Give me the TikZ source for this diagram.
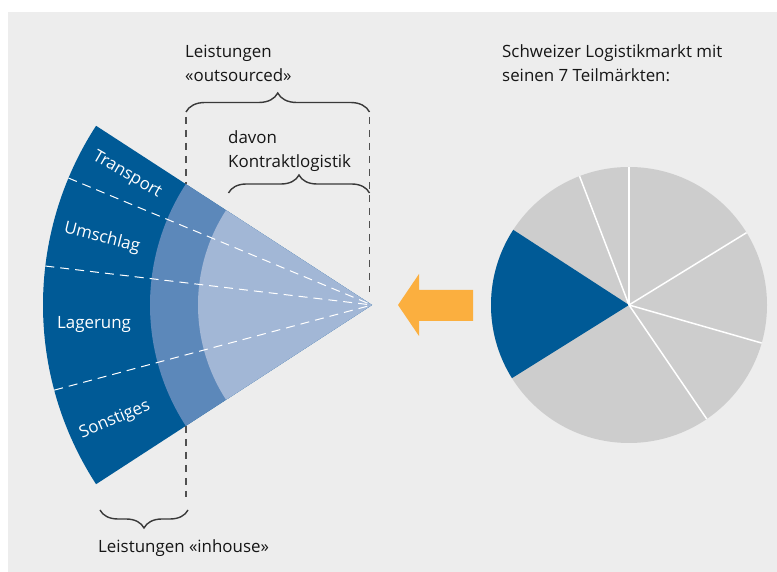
\documentclass[tikz,border=0pt]{standalone}
\usepackage{fontspec}
\setmainfont{Open Sans}
\usetikzlibrary{decorations.pathreplacing}
\definecolor{bgc}{HTML}{EDEDED}
\definecolor{fdark}{HTML}{005A96}
\definecolor{fmid}{HTML}{5C88BA}
\definecolor{flight}{HTML}{A2B7D6}
\definecolor{pgray}{HTML}{CDCDCD}
\definecolor{arrowc}{HTML}{FBAF3F}
\definecolor{txt}{HTML}{161616}
\definecolor{guidec}{HTML}{505050}
\begin{document}
\begin{tikzpicture}[x=1pt,y=1pt,
  lbl/.style={font=\fontsize{16.9}{24}\selectfont, text=txt, inner sep=0pt, align=left},
  seg/.style={font=\fontsize{16.9}{20}\selectfont, text=white, inner sep=0pt},
  guide/.style={draw=guidec, line width=1.6pt, dash pattern=on 7pt off 6pt},
  curly/.style={draw=txt!85, line width=1.4pt, decorate,
     decoration={brace, amplitude=#1}},
  wdash/.style={draw=white, line width=1pt, dash pattern=on 9pt off 6pt},
  wline/.style={draw=white, line width=1.5pt}]
\useasboundingbox (0,0) rectangle (777,572);
\fill[white] (0,0) rectangle (777,572);
\fill[bgc] (8,0) rectangle (777,560);

% fan
\coordinate (A) at (372,267);
\fill[fdark] (A) -- ++(147:329) arc[start angle=147,end angle=213,radius=329] -- cycle;
\fill[fmid] (A) -- ++(147:222) arc[start angle=147,end angle=213,radius=222] -- cycle;
\fill[flight] (A) -- ++(147:174) arc[start angle=147,end angle=213,radius=174] -- cycle;
\foreach \a in {157.3,173.2,195} \draw[wdash] (A) ++(\a:329) -- (A);

\node[seg, rotate=-30] (tr) at (127,397) {Transport};
\node[seg, rotate=-14] (um) at (102,334) {Umschlag};
\node[seg] (la) at (94,247) {Lagerung};
\node[seg, rotate=23] (so) at (115,152) {Sonstiges};

% guides
\coordinate (g1t) at (186,455); \coordinate (g1b) at (186,388);
\coordinate (g2t) at (186,146); \coordinate (g2b) at (186,75);
\coordinate (g3t) at (369.5,455); \coordinate (g3b) at (369.5,280);
\draw[guide] (g1t) -- (g1b);
\draw[guide] (g2t) -- (g2b);
\draw[guide] (g3t) -- (g3b);

% braces
\coordinate (ob1) at (186,460); \coordinate (ob2) at (369.5,460);
\coordinate (kb1) at (228.5,379); \coordinate (kb2) at (369.5,379);
\coordinate (ib1) at (188,62); \coordinate (ib2) at (100,62);
\draw[curly=19pt] (ob1) -- (ob2);
\draw[curly=18pt] (kb1) -- (kb2);
\draw[curly=18pt] (ib1) -- (ib2);

% texts (base anchor = last line)
\node[lbl, anchor=base west] (out) at (185,490) {Leistungen\\«outsourced»};
\node[lbl, anchor=base west] (kl) at (228,404) {davon\\Kontraktlogistik};
\node[lbl, anchor=base west] (inh) at (98,19) {Leistungen «inhouse»};
\node[lbl, anchor=base west] (mk) at (502,490) {Schweizer Logistikmarkt mit\\seinen 7 Teilmärkten:};

% arrow
\fill[arrowc] (398,267) -- (419,298) -- (419,282) -- (473,282) -- (473,251) -- (419,251) -- (419,236) -- cycle;

% pie
\coordinate (P) at (629,267);
\fill[pgray] (P) circle[radius=138];
\fill[fdark] (P) -- ++(147:138) arc[start angle=147,end angle=212,radius=138] -- cycle;
\foreach \a in {90,111,31.6,-16,-55.7} \draw[wline] (P) -- ++(\a:138);
\end{tikzpicture}
\end{document}
